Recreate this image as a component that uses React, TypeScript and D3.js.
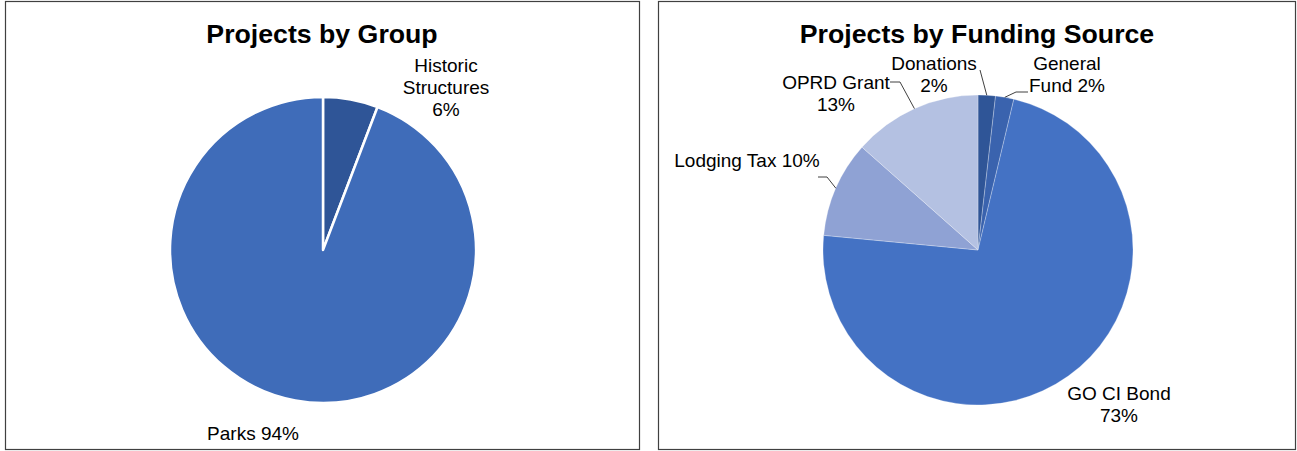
import React from "react";
import * as d3 from "d3";

// ---- Data ----
const groupCategories = ["Historic Structures", "Parks"];
const groupValues = [5.8, 94.2];
const groupPctLabels = ["6%", "94%"];

const fundingCategories = ["Donations", "General Fund", "GO CI Bond", "Lodging Tax", "OPRD Grant"];
const fundingValues = [1.8, 1.9, 72.5, 10.0, 13.4];
const fundingPctLabels = ["2%", "2%", "73%", "10%", "13%"];

const groupColors = ["#2F5597", "#3F6CB9"];
const fundingColors = ["#2F5597", "#3A63AE", "#4472C4", "#8FA2D4", "#B4C1E2"];

const FONT = "Liberation Sans, Arial, sans-serif";

type LabelSpec = { lines: string[]; x: number; y: number; leader?: [number, number][] };

function Pie({
  cx, cy, r, values, colors, strokeW, strokeColor,
}: { cx: number; cy: number; r: number; values: number[]; colors: string[]; strokeW: number; strokeColor: string }) {
  const pie = d3.pie<number>().sort(null).value((d) => d);
  const arcs = pie(values);
  const arc = d3.arc<d3.PieArcDatum<number>>().innerRadius(0).outerRadius(r);
  return (
    <g transform={`translate(${cx},${cy})`}>
      {arcs.map((a, i) => (
        <path key={i} d={arc(a) || ""} fill={colors[i]} stroke={strokeColor} strokeWidth={strokeW} strokeLinejoin="round" />
      ))}
    </g>
  );
}

function edgePoint(values: number[], i: number, cx: number, cy: number, r: number): [number, number] {
  const arcs = d3.pie<number>().sort(null).value((d) => d)(values);
  const a = (arcs[i].startAngle + arcs[i].endAngle) / 2;
  return [cx + r * Math.sin(a), cy - r * Math.cos(a)];
}

function Labels({ specs }: { specs: LabelSpec[] }) {
  return (
    <g>
      {specs.map((s, i) => (
        <g key={i}>
          {s.leader && (
            <polyline points={s.leader.map((p) => p.join(",")).join(" ")} fill="none" stroke="#404040" strokeWidth={1} />
          )}
          {s.lines.map((ln, j) => (
            <text key={j} x={s.x} y={s.y + j * 22} textAnchor="middle" fontFamily={FONT} fontSize={19} fill="#000">
              {ln}
            </text>
          ))}
        </g>
      ))}
    </g>
  );
}

export default function App() {
  const L = { cx: 323, cy: 250, r: 153 };
  const R = { cx: 978, cy: 250, r: 155 };

  const leftLabels: LabelSpec[] = [
    { lines: ["Historic", "Structures", groupPctLabels[0]], x: 446, y: 72 },
    { lines: [`${groupCategories[1]} ${groupPctLabels[1]}`], x: 253, y: 440 },
  ];

  const ep = (i: number) => edgePoint(fundingValues, i, R.cx, R.cy, R.r);
  const rightLabels: LabelSpec[] = [
    { lines: [fundingCategories[0], fundingPctLabels[0]], x: 934, y: 70, leader: [[980, 70], ep(0)] },
    { lines: ["General", `Fund ${fundingPctLabels[1]}`], x: 1067, y: 70, leader: [[1028, 92], [1016, 92], ep(1)] },
    { lines: [fundingCategories[2], fundingPctLabels[2]], x: 1119, y: 400 },
    { lines: [`${fundingCategories[3]} ${fundingPctLabels[3]}`], x: 747, y: 167, leader: [[818, 177], [827, 177], ep(3)] },
    { lines: [fundingCategories[4], fundingPctLabels[4]], x: 836, y: 89, leader: [[890, 82], [900, 82], ep(4)] },
  ];

  return (
    <svg width={1297} height={451} style={{ position: "absolute", left: 0, top: 0 }} xmlns="http://www.w3.org/2000/svg">
      <rect x={0} y={0} width={1297} height={451} fill="#fff" />
      <rect x={5.5} y={1.5} width={634} height={448} fill="#fff" stroke="#404040" strokeWidth={1.2} />
      <rect x={658.5} y={1.5} width={637} height={448} fill="#fff" stroke="#404040" strokeWidth={1.2} />

      <text x={322} y={43} textAnchor="middle" fontFamily={FONT} fontWeight="bold" fontSize={26.7}>Projects by Group</text>
      <text x={977} y={43} textAnchor="middle" fontFamily={FONT} fontWeight="bold" fontSize={26.7}>Projects by Funding Source</text>

      <Pie cx={L.cx} cy={L.cy} r={L.r} values={groupValues} colors={groupColors} strokeW={2.5} strokeColor="#fff" />
      <Pie cx={R.cx} cy={R.cy} r={R.r} values={fundingValues} colors={fundingColors} strokeW={0.6} strokeColor="rgba(255,255,255,0.45)" />

      <Labels specs={leftLabels} />
      <Labels specs={rightLabels} />
    </svg>
  );
}
